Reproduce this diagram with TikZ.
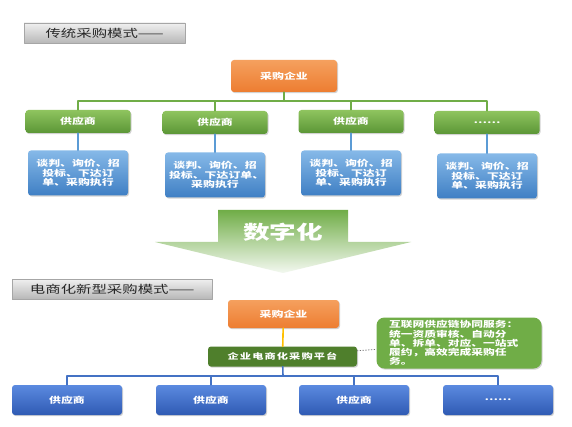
\documentclass[tikz,border=0pt]{standalone}
\usepackage{fontspec}
\newfontfamily\cjk[FakeStretch=1.4]{Noto Sans CJK SC}
\newfontfamily\cjkwide[FakeStretch=1.4,LetterSpace=14]{Noto Sans CJK SC}
\usetikzlibrary{arrows.meta,positioning,shadows}

\definecolor{buyorange}{HTML}{ED7D31}
\definecolor{buyorangelt}{HTML}{F5A05E}
\definecolor{supgreen}{HTML}{70AD47}
\definecolor{supgreenlt}{HTML}{8FC45F}
\definecolor{supgreendk}{HTML}{5B9636}
\definecolor{taskblue}{HTML}{5B9BD5}
\definecolor{taskbluelt}{HTML}{86B9E8}
\definecolor{taskbluedk}{HTML}{3F7FC4}
\definecolor{vendblue}{HTML}{4472C4}
\definecolor{vendbluelt}{HTML}{5B8AE0}
\definecolor{vendbluedk}{HTML}{2F5AB3}
\definecolor{platgreen}{HTML}{4F7F2C}
\definecolor{linkyellow}{HTML}{FFC000}

\begin{document}
\begin{tikzpicture}[x=1pt,y=-1pt,line cap=round,line join=round,font=\cjk,
  titlebox/.style={draw=black!35,top color=black!6,bottom color=black!28,
    anchor=west,inner xsep=12pt,inner ysep=0pt,minimum height=20pt,align=left,
    text=black!85,font=\cjk\fontsize{11}{13}\selectfont},
  cardbox/.style={rounded corners=3pt,inner sep=2pt,text=white,align=center,
    font=\cjk\bfseries\fontsize{8.5}{9.5}\selectfont,
    drop shadow={shadow xshift=1pt,shadow yshift=-1.2pt,opacity=.35}},
  buybox/.style={cardbox,top color=buyorangelt,bottom color=buyorange},
  supbox/.style={cardbox,top color=supgreenlt,bottom color=supgreendk,
    minimum width=105pt,minimum height=23pt},
  taskbox/.style={cardbox,top color=taskbluelt,bottom color=taskbluedk,
    minimum width=100pt,minimum height=45pt,text width=92pt},
  vendbox/.style={cardbox,top color=vendbluelt,bottom color=vendbluedk,
    minimum width=110pt,minimum height=30pt},
  greenlink/.style={draw=supgreen,line width=1.6pt},
  bluelink/.style={draw=taskblue,line width=1.6pt},
  vendlink/.style={draw=vendblue,line width=1.6pt}]
\path[use as bounding box,fill=white] (0,0) rectangle (572,427);

% traditional purchasing
\node[titlebox,minimum width=161pt] (title1) at (24,33) {传统采购模式——};
\node[buybox,minimum width=106pt,minimum height=32pt] (buy1) at (284,76) {采购企业};
\coordinate (bus1) at (284,101);

\node[supbox] (sup1) at (78,121.5) {供应商};
\node[supbox] (sup2) at (215,122.5) {供应商};
\node[supbox] (sup3) at (351,121.5) {供应商};
\node[supbox] (sup4) at (487,122.5) {……};

\node[taskbox] (task1) at (78,173) {谈判、询价、招\\投标、下达订\\单、采购执行};
\node[taskbox] (task2) at (215,175) {谈判、询价、招\\投标、下达订单、\\采购执行};
\node[taskbox] (task3) at (351,173) {谈判、询价、招\\投标、下达订\\单、采购执行};
\node[taskbox] (task4) at (487,176) {谈判、询价、招\\投标、下达订\\单、采购执行};

\draw[greenlink] (buy1) -- (bus1);
\foreach \i in {1,...,4} {
  \draw[greenlink] (bus1) -| (sup\i.north);
  \draw[bluelink] (sup\i) -- (task\i);
}

% digitisation arrow
\shade[top color=supgreen,bottom color=supgreen!8]
  (218,210) -- (348,210) -- (348,242) -- (411,242) -- (283,273)
  -- (155,242) -- (218,242) -- cycle;
\node[text=white,font=\cjk\bfseries\fontsize{19}{21}\selectfont] (digit) at (283,232) {数字化};

% e-commerce purchasing
\node[titlebox,minimum width=200pt] (title2) at (12,289) {电商化新型采购模式——};
\node[buybox,minimum width=111pt,minimum height=28pt] (buy2) at (283.5,314) {采购企业};
\node[cardbox,fill=platgreen,minimum width=149pt,minimum height=20pt,
  font=\cjkwide\bfseries\fontsize{8}{9}\selectfont] (plat) at (282.5,356.5) {企业电商化采购平台};
\node[cardbox,fill=supgreen,rounded corners=8pt,minimum width=165pt,minimum height=51pt,
  text width=140pt,align=left,font=\cjk\bfseries\fontsize{8.4}{9.2}\selectfont] (note) at (459,343)
  {互联网供应链协同服务：\\统一资质审核、自动分\\单、拆单、对应、一站式\\履约，高效完成采购任\\务。};
\coordinate (bus2) at (283,376);

\node[vendbox] (vend1) at (67,400) {供应商};
\node[vendbox] (vend2) at (211,400) {供应商};
\node[vendbox] (vend3) at (354,400) {供应商};
\node[vendbox] (vend4) at (498,400) {……};

\draw[draw=linkyellow,line width=1.6pt] (buy2) -- (plat);
\draw[draw=black!55,line width=.8pt,dotted] (plat) -- (note);
\draw[vendlink] (plat) -- (bus2);
\foreach \i in {1,...,4}
  \draw[vendlink] (bus2) -| (vend\i.north);
\end{tikzpicture}
\end{document}
